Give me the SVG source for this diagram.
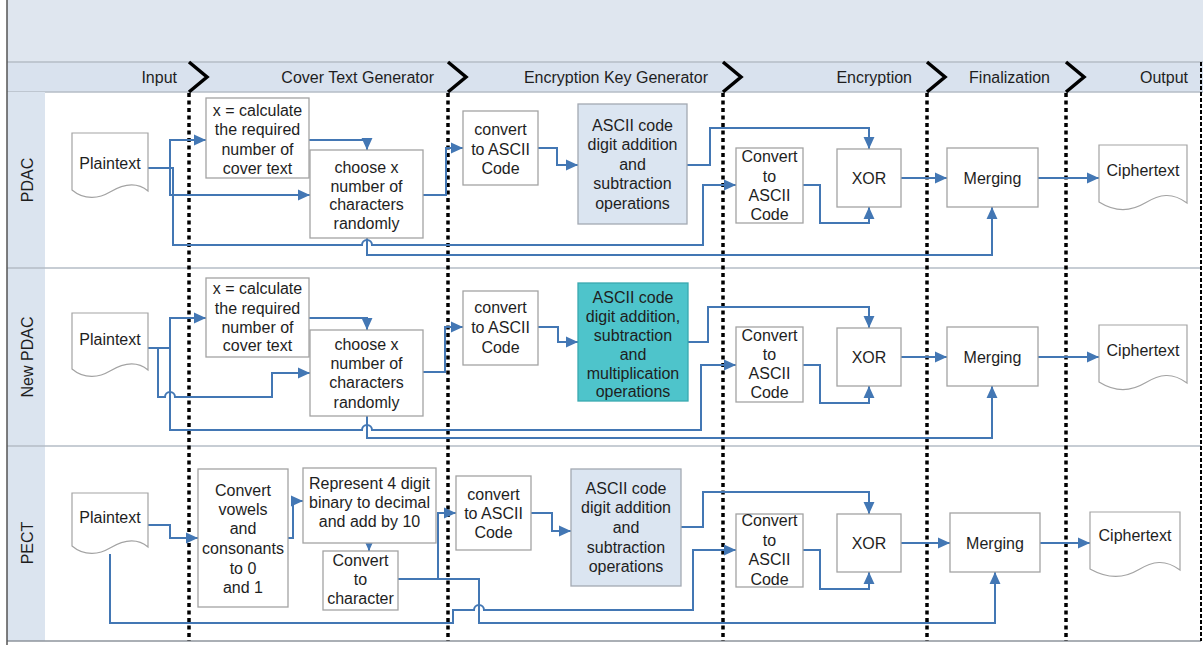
<svg xmlns="http://www.w3.org/2000/svg" width="1203" height="645" viewBox="0 0 1203 645">
<style>
text{font-family:"Liberation Sans",Arial,sans-serif;font-size:16px;fill:#1e1e1e}
.c{text-anchor:middle}
.e{text-anchor:end}
.box{fill:#fff;stroke:#a3a3a3;stroke-width:1.3}
.lb{fill:#dbe5f1;stroke:#a3a9b2;stroke-width:1.3}
.teal{fill:#4ec4cb;stroke:#3aa9b0;stroke-width:1.3}
.doc{fill:#fff;stroke:#a3a3a3;stroke-width:1.2}
.cn path{fill:none;stroke:#4377b4;stroke-width:2}
.cn path.a{marker-end:url(#ar)}
.sep{stroke:#000;stroke-width:3.5;stroke-dasharray:4 3.5;fill:none}
.chev{stroke:#000;stroke-width:3.5;fill:none}
.lane{stroke:#b5bcc6;stroke-width:1.5}
</style>
<defs>
<marker id="ar" markerUnits="userSpaceOnUse" markerWidth="12" markerHeight="12" viewBox="0 0 11 10" refX="11" refY="5" orient="auto">
<path d="M0,0 L11,5 L0,10 Z" fill="#4377b4"/>
</marker>
</defs>

<!-- background -->
<rect x="0" y="0" width="1203" height="645" fill="#fff"/>
<rect x="7" y="0" width="1196" height="62" fill="#dfe6ef"/>
<rect x="7" y="62" width="1196" height="30" fill="#d9e2ee"/>
<line x1="7" y1="62" x2="1203" y2="62" class="lane"/>
<line x1="7" y1="92" x2="1203" y2="92" class="lane"/>
<rect x="7" y="92" width="38" height="549" fill="#dbe4ef"/>
<line x1="7" y1="268" x2="1201" y2="268" class="lane"/>
<line x1="7" y1="446" x2="1201" y2="446" class="lane"/>
<line x1="7" y1="641" x2="1201" y2="641" stroke="#8e949c" stroke-width="1.5"/>
<line x1="7" y1="0" x2="7" y2="645" stroke="#555" stroke-width="1.5"/>

<!-- header labels -->
<g id="headers">
<text x="177" y="83" class="e">Input</text>
<text x="434" y="83" class="e">Cover Text Generator</text>
<text x="708" y="83" class="e">Encryption Key Generator</text>
<text x="912" y="83" class="e">Encryption</text>
<text x="1050" y="83" class="e">Finalization</text>
<text x="1188" y="83" class="e">Output</text>
</g>

<!-- lane labels -->
<g id="lanes">
<text transform="translate(33,180) rotate(-90)" class="c">PDAC</text>
<text transform="translate(33,357) rotate(-90)" class="c">New PDAC</text>
<text transform="translate(33,543) rotate(-90)" class="c">PECT</text>
</g>

<!-- separators -->
<g id="separators">
<polyline class="chev" points="189,62 207,77 189,92"/>
<polyline class="chev" points="448,62 466,77 448,92"/>
<polyline class="chev" points="723,62 741,77 723,92"/>
<polyline class="chev" points="927,62 945,77 927,92"/>
<polyline class="chev" points="1066,62 1084,77 1066,92"/>
<line class="sep" x1="189" y1="93" x2="189" y2="641"/>
<line class="sep" x1="448" y1="93" x2="448" y2="641"/>
<line class="sep" x1="723" y1="93" x2="723" y2="641"/>
<line class="sep" x1="927" y1="93" x2="927" y2="641"/>
<line class="sep" x1="1066" y1="93" x2="1066" y2="641"/>
<line x1="1201" y1="62" x2="1201" y2="641" stroke="#000" stroke-width="2" stroke-dasharray="4 2"/>
</g>

<!-- connectors -->
<g id="connectors" class="cn">
<!-- row 1 -->
<path d="M148,168 H173 V245 H362 A5,5 0 0 1 372,245 H703 V185 H736" class="a"/>
<path d="M170,168 V140 H206" class="a"/>
<path d="M170,168 V195 H310" class="a"/>
<path d="M309,140 H367 V150" class="a"/>
<path d="M367,238 V255 H992 V207" class="a"/>
<path d="M423,195 H446 V148 H463" class="a"/>
<path d="M538,148 H557 V165 H578" class="a"/>
<path d="M687,165 H710 V128 H869 V149" class="a"/>
<path d="M803,185 H820 V223 H869 V207" class="a"/>
<path d="M901,178 H947" class="a"/>
<path d="M1038,178 H1099" class="a"/>
<!-- row 2 -->
<path d="M148,348 H170"/>
<path d="M170,348 V318 H206" class="a"/>
<path d="M170,348 V430 H362 A5,5 0 0 1 372,430 H701 V365 H736" class="a"/>
<path d="M158,348 V397 H165 A5,5 0 0 1 175,397 H272 V373 H310" class="a"/>
<path d="M309,318 H367 V330" class="a"/>
<path d="M367,416 V438 H992 V386" class="a"/>
<path d="M423,372 H445 V327 H463" class="a"/>
<path d="M538,327 H558 V342 H578" class="a"/>
<path d="M688,342 H708 V307 H869 V328" class="a"/>
<path d="M803,365 H820 V403 H869 V386" class="a"/>
<path d="M901,357 H947" class="a"/>
<path d="M1038,357 H1099" class="a"/>
<!-- row 3 -->
<path d="M148,525 H170 V538 H198" class="a"/>
<path d="M288,538 H293 V501 H303" class="a"/>
<path d="M369,543 V551" class="a"/>
<path d="M110,554 V623 H453 V610 H474 A5,5 0 0 1 484,610 H693 V550 H736" class="a"/>
<path d="M398,579 H438 V513 H456" class="a"/>
<path d="M438,579 H479 V623 H995 V572" class="a"/>
<path d="M531,513 H552 V531 H571" class="a"/>
<path d="M681,527 H703 V492 H869 V514" class="a"/>
<path d="M803,550 H820 V589 H869 V572" class="a"/>
<path d="M901,543 H950" class="a"/>
<path d="M1040,543 H1090" class="a"/>
</g>

<!-- ===== Row 1: PDAC ===== -->
<g id="pdac-plaintext">
<path class="doc" d="M72,133 H148 V191 C135,180 120,186 110,192 C100,198 85,201 72,190 Z"/>
<text x="110" y="169" class="c">Plaintext</text>
</g>
<g id="pdac-calc">
<rect class="box" x="206" y="98" width="103" height="80"/>
<text class="c" x="257.5"><tspan x="257.5" y="116">x = calculate</tspan><tspan x="257.5" y="135">the required</tspan><tspan x="257.5" y="155">number of</tspan><tspan x="257.5" y="174">cover text</tspan></text>
</g>
<g id="pdac-choose">
<rect class="box" x="310" y="150" width="113" height="88"/>
<text class="c"><tspan x="366.5" y="173">choose x</tspan><tspan x="366.5" y="192">number of</tspan><tspan x="366.5" y="210">characters</tspan><tspan x="366.5" y="229">randomly</tspan></text>
</g>
<g id="pdac-convert">
<rect class="box" x="463" y="111" width="75" height="74"/>
<text class="c"><tspan x="500.5" y="135">convert</tspan><tspan x="500.5" y="155">to ASCII</tspan><tspan x="500.5" y="174">Code</tspan></text>
</g>
<g id="pdac-key">
<rect class="lb" x="578" y="104" width="109" height="120"/>
<text class="c"><tspan x="632.5" y="131">ASCII code</tspan><tspan x="632.5" y="150">digit addition</tspan><tspan x="632.5" y="170">and</tspan><tspan x="632.5" y="189">subtraction</tspan><tspan x="632.5" y="209">operations</tspan></text>
</g>
<g id="pdac-convert2">
<rect class="box" x="736" y="148" width="67" height="75"/>
<text class="c"><tspan x="769.5" y="162">Convert</tspan><tspan x="769.5" y="182">to</tspan><tspan x="769.5" y="201">ASCII</tspan><tspan x="769.5" y="220">Code</tspan></text>
</g>
<g id="pdac-xor">
<rect class="box" x="837" y="149" width="64" height="58"/>
<text class="c" x="869" y="184">XOR</text>
</g>
<g id="pdac-merging">
<rect class="box" x="947" y="148" width="91" height="59"/>
<text class="c" x="992.5" y="184">Merging</text>
</g>
<g id="pdac-ciphertext">
<path class="doc" d="M1099,145 H1187 V203 C1172,192 1160,194 1145,203 C1130,212 1115,212 1099,202 Z"/>
<text x="1143" y="176" class="c">Ciphertext</text>
</g>

<!-- ===== Row 2: New PDAC ===== -->
<g id="npdac-plaintext">
<path class="doc" d="M72,313 H148 V370 C135,359 120,365 110,371 C100,377 85,380 72,369 Z"/>
<text x="110" y="345" class="c">Plaintext</text>
</g>
<g id="npdac-calc">
<rect class="box" x="206" y="278" width="103" height="79"/>
<text class="c"><tspan x="257.5" y="294">x = calculate</tspan><tspan x="257.5" y="314">the required</tspan><tspan x="257.5" y="333">number of</tspan><tspan x="257.5" y="351">cover text</tspan></text>
</g>
<g id="npdac-choose">
<rect class="box" x="310" y="330" width="113" height="86"/>
<text class="c"><tspan x="366.5" y="350">choose x</tspan><tspan x="366.5" y="369">number of</tspan><tspan x="366.5" y="388">characters</tspan><tspan x="366.5" y="408">randomly</tspan></text>
</g>
<g id="npdac-convert">
<rect class="box" x="463" y="291" width="75" height="74"/>
<text class="c"><tspan x="500.5" y="313">convert</tspan><tspan x="500.5" y="333">to ASCII</tspan><tspan x="500.5" y="353">Code</tspan></text>
</g>
<g id="npdac-key">
<rect class="teal" x="578" y="283" width="110" height="118"/>
<text class="c"><tspan x="633" y="303">ASCII code</tspan><tspan x="633" y="322">digit addition,</tspan><tspan x="633" y="341">subtraction</tspan><tspan x="633" y="360">and</tspan><tspan x="633" y="379">multiplication</tspan><tspan x="633" y="397">operations</tspan></text>
</g>
<g id="npdac-convert2">
<rect class="box" x="736" y="327" width="67" height="75"/>
<text class="c"><tspan x="769.5" y="341">Convert</tspan><tspan x="769.5" y="360">to</tspan><tspan x="769.5" y="379">ASCII</tspan><tspan x="769.5" y="398">Code</tspan></text>
</g>
<g id="npdac-xor">
<rect class="box" x="837" y="328" width="64" height="58"/>
<text class="c" x="869" y="363">XOR</text>
</g>
<g id="npdac-merging">
<rect class="box" x="947" y="327" width="91" height="59"/>
<text class="c" x="992.5" y="363">Merging</text>
</g>
<g id="npdac-ciphertext">
<path class="doc" d="M1099,325 H1187 V383 C1172,372 1160,374 1145,383 C1130,392 1115,392 1099,382 Z"/>
<text x="1143" y="356" class="c">Ciphertext</text>
</g>

<!-- ===== Row 3: PECT ===== -->
<g id="pect-plaintext">
<path class="doc" d="M72,493 H148 V547 C135,536 120,542 110,548 C100,554 85,557 72,546 Z"/>
<text x="110" y="523" class="c">Plaintext</text>
</g>
<g id="pect-vowels">
<rect class="box" x="198" y="469" width="90" height="138"/>
<text class="c"><tspan x="243" y="496">Convert</tspan><tspan x="243" y="515">vowels</tspan><tspan x="243" y="534">and</tspan><tspan x="243" y="554">consonants</tspan><tspan x="243" y="574">to 0</tspan><tspan x="243" y="593">and 1</tspan></text>
</g>
<g id="pect-represent">
<rect class="box" x="303" y="468" width="133" height="75"/>
<text class="c"><tspan x="369.5" y="489">Represent 4 digit</tspan><tspan x="369.5" y="508">binary to decimal</tspan><tspan x="369.5" y="527">and add by 10</tspan></text>
</g>
<g id="pect-character">
<rect class="box" x="323" y="551" width="75" height="59"/>
<text class="c"><tspan x="360.5" y="566">Convert</tspan><tspan x="360.5" y="585">to</tspan><tspan x="360.5" y="604">character</tspan></text>
</g>
<g id="pect-convert">
<rect class="box" x="456" y="476" width="75" height="74"/>
<text class="c"><tspan x="493.5" y="500">convert</tspan><tspan x="493.5" y="519">to ASCII</tspan><tspan x="493.5" y="538">Code</tspan></text>
</g>
<g id="pect-key">
<rect class="lb" x="571" y="469" width="110" height="117"/>
<text class="c"><tspan x="626" y="494">ASCII code</tspan><tspan x="626" y="513">digit addition</tspan><tspan x="626" y="533">and</tspan><tspan x="626" y="553">subtraction</tspan><tspan x="626" y="572">operations</tspan></text>
</g>
<g id="pect-convert2">
<rect class="box" x="736" y="514" width="67" height="73"/>
<text class="c"><tspan x="769.5" y="526">Convert</tspan><tspan x="769.5" y="546">to</tspan><tspan x="769.5" y="565">ASCII</tspan><tspan x="769.5" y="585">Code</tspan></text>
</g>
<g id="pect-xor">
<rect class="box" x="837" y="514" width="64" height="58"/>
<text class="c" x="869" y="549">XOR</text>
</g>
<g id="pect-merging">
<rect class="box" x="950" y="513" width="90" height="59"/>
<text class="c" x="995" y="549">Merging</text>
</g>
<g id="pect-ciphertext">
<path class="doc" d="M1090,512 H1180 V570 C1165,559 1153,561 1138,570 C1123,579 1108,579 1090,569 Z"/>
<text x="1135" y="541" class="c">Ciphertext</text>
</g>
</svg>
